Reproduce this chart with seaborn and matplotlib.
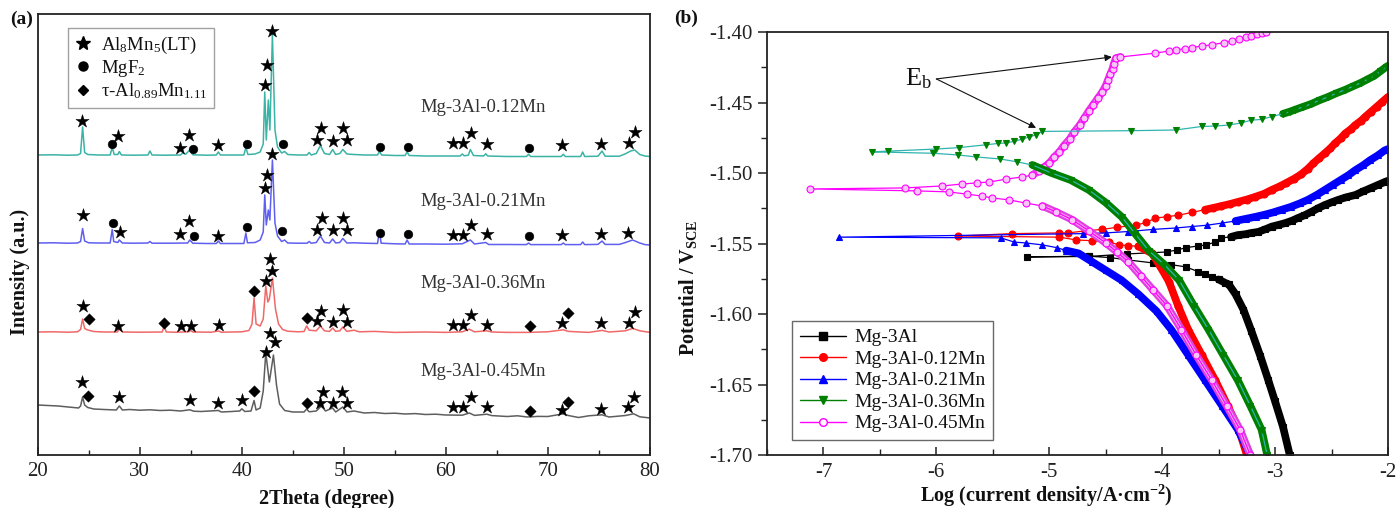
import matplotlib
matplotlib.use("Agg")
import matplotlib.pyplot as plt
from matplotlib.lines import Line2D
from matplotlib.ticker import MultipleLocator, FormatStrFormatter
import numpy as np
import pandas as pd
import seaborn as sns

# ---------------------------------------------------------------- XRD data
# (2theta in degrees, intensity in a.u.); each pattern is stacked with its offset
XRD_012 = [(20.0,3000),(21.5,3002),(23.0,2998),(23.9,3000),(24.2,3015),(24.4,3280),(24.6,3025),(24.9,3005),(26.0,3000),
           (27.1,3000),(27.3,3075),(27.5,3005),(27.85,3005),(28.0,3035),(28.2,3000),(29.5,2998),
           (30.8,3000),(31.0,3040),(31.2,3000),(32.5,2998),
           (34.0,3000),(34.2,3020),(34.5,3008),(34.9,3050),(35.2,3002),(36.5,2998),
           (37.5,3000),(37.7,3030),(37.9,3000),(39.0,3000),
           (40.2,3000),(40.4,3075),(40.6,3005),(41.3,3010),
           (41.8,3030),(42.1,3110),(42.25,3630),(42.4,3150),(42.6,3550),(42.75,3250),(43.0,4200),(43.25,3250),
           (43.5,3080),(43.9,3020),(44.2,3035),(44.5,3005),(45.5,3000),
           (46.4,3000),(46.6,3025),(46.8,3000),
           (47.3,3015),(47.7,3095),(48.1,3015),(48.6,3005),(48.9,3055),(49.2,3005),(49.6,3015),(49.9,3055),(50.3,3010),
           (51.0,3005),(52.0,3000),(53.3,3000),(53.5,3035),(53.7,3000),(55.0,2995),
           (56.0,2995),(56.2,3030),(56.4,2995),(58.0,2990),(60.0,2990),
           (61.4,2990),(61.6,3010),(61.8,2992),(62.2,2998),(62.4,3055),(62.7,2995),(63.7,2990),(63.9,3012),(64.1,2990),
           (66.0,2985),(67.9,2985),(68.1,3008),(68.3,2985),(70.0,2985),(71.3,2985),(71.5,3008),(71.7,2985),
           (73.2,2985),(73.4,3030),(73.6,2985),(74.9,2988),(75.3,3040),(75.6,2988),(77.0,2988),(77.6,3012),
           (78.1,3040),(78.5,3050),(79.0,3005),(79.5,2990),(80.0,2985)]

XRD_021 = [(20.0,2120),(21.5,2122),(23.0,2118),(23.9,2120),(24.2,2135),(24.4,2265),(24.6,2140),(25.0,2122),(26.0,2120),
           (27.1,2120),(27.3,2255),(27.45,2135),(27.85,2125),(28.0,2150),(28.3,2120),(29.5,2118),
           (30.8,2120),(31.0,2135),(31.2,2118),(33.0,2118),
           (34.7,2120),(34.9,2150),(35.2,2118),(36.5,2115),
           (37.5,2115),(37.7,2140),(37.9,2115),(39.0,2115),
           (40.2,2115),(40.4,2220),(40.55,2122),(41.3,2125),
           (41.8,2150),(42.1,2230),(42.25,2600),(42.4,2300),(42.6,2450),(42.75,2350),(43.0,2950),(43.25,2320),
           (43.5,2190),(43.9,2135),(44.2,2150),(44.5,2120),(45.5,2118),
           (46.4,2118),(46.6,2135),(46.8,2118),
           (47.3,2125),(47.7,2190),(48.1,2125),(48.6,2120),(48.9,2160),(49.2,2120),(49.6,2125),(49.9,2165),(50.3,2120),
           (51.0,2122),(52.0,2118),(53.3,2115),(53.5,2245),(53.65,2118),(55.0,2112),
           (56.0,2110),(56.2,2150),(56.4,2110),(58.0,2110),(60.0,2108),
           (61.6,2112),(62.4,2150),(62.8,2110),(63.9,2125),(64.2,2105),(66.0,2105),
           (67.9,2104),(68.1,2120),(68.3,2104),(70.0,2104),(71.3,2104),(71.5,2120),(71.7,2104),
           (73.2,2104),(73.4,2130),(73.6,2104),(74.9,2106),(75.3,2140),(75.6,2106),(77.0,2106),(77.6,2125),
           (78.3,2150),(79.0,2120),(79.5,2104),(80.0,2100)]

XRD_036 = [(20.0,1230),(21.5,1232),(23.0,1228),(23.9,1232),(24.2,1255),(24.4,1360),(24.6,1265),(24.9,1250),(25.5,1235),(26.5,1230),
           (27.8,1230),(28.0,1262),(28.3,1230),(30.0,1228),
           (32.2,1230),(32.4,1290),(32.6,1230),(33.5,1228),
           (34.8,1232),(35.0,1245),(35.2,1230),(37.0,1228),(37.7,1240),(38.0,1228),(40.0,1232),
           (40.7,1245),(41.0,1310),(41.2,1570),(41.4,1310),(41.8,1290),(42.1,1360),(42.35,1690),(42.55,1530),
           (42.7,1560),(43.0,1770),(43.3,1460),(43.6,1310),(44.0,1255),(44.5,1238),(45.5,1232),
           (46.1,1235),(46.35,1290),(46.6,1248),(47.3,1242),(47.7,1290),(48.1,1242),(48.6,1236),(48.9,1270),
           (49.2,1236),(49.6,1242),(49.9,1280),(50.3,1236),(51.0,1248),(51.5,1232),(53.0,1236),(55.0,1226),
           (58.0,1230),(60.0,1226),(61.6,1232),(62.3,1258),(62.8,1232),(64.0,1242),(64.5,1230),(66.0,1226),
           (68.0,1226),(70.0,1232),(71.5,1252),(72.0,1236),(74.0,1226),(75.3,1246),(76.0,1230),(77.6,1242),
           (78.3,1266),(79.0,1242),(80.0,1226)]

XRD_045 = [(20.0,500),(21.0,495),(22.0,490),(23.0,480),(24.0,470),(24.2,490),(24.4,580),(24.6,500),(24.9,475),(25.5,460),(26.5,455),
           (27.7,450),(28.0,490),(28.3,450),(29.0,455),(30.0,448),(31.0,452),(32.0,445),(33.0,448),(34.0,440),
           (34.9,452),(35.3,438),(36.0,435),(37.7,445),(38.0,430),(39.0,435),
           (39.8,440),(40.0,462),(40.3,435),(40.9,440),(41.2,545),(41.4,450),(41.8,470),(42.1,640),(42.35,1020),
           (42.7,730),(43.1,1000),(43.4,700),(43.7,510),(44.2,445),(45.0,430),
           (46.1,430),(46.35,460),(46.6,432),(47.3,440),(47.8,490),(48.2,440),(48.9,470),(49.2,430),(49.9,480),
           (50.3,430),(51.0,440),(52.0,420),(53.0,425),(54.0,415),(55.0,418),(56.0,410),(57.0,414),(58.0,405),
           (59.0,408),(60.0,400),(61.6,398),(62.3,420),(62.8,396),(64.0,408),(64.5,394),(66.0,385),(67.0,392),
           (68.0,380),(69.0,386),(70.0,385),(71.5,412),(72.0,395),(73.0,375),(74.0,392),(75.3,402),(76.0,380),
           (77.6,395),(78.4,412),(79.0,382),(80.0,370)]

# phase identification symbols (2theta, intensity)
AL8MN5_012 = [(24.33,3340),(27.9,3190),(33.9,3070),(34.8,3200),(37.7,3100),(42.25,3700),(42.5,3900),(43.0,4240),
              (47.4,3150),(47.8,3270),(48.9,3140),(49.9,3270),(50.3,3150),(60.7,3120),(61.7,3120),(62.5,3220),
              (64.0,3110),(71.4,3100),(75.2,3110),(77.9,3120),(78.5,3230)]
MGF2_012 = [(27.3,3110),(35.2,3060),(40.5,3110),(44.0,3110),(53.5,3080),(56.3,3080),(68.1,3070)]

AL8MN5_021 = [(24.4,2400),(28.1,2230),(33.9,2210),(34.8,2340),(37.7,2190),(42.25,2670),(42.5,2800),(43.0,3010),
              (47.4,2250),(47.9,2370),(48.9,2250),(49.9,2370),(50.3,2250),(60.7,2200),(61.7,2200),(62.5,2300),
              (64.0,2210),(71.4,2200),(75.2,2210),(77.8,2220)]
MGF2_021 = [(27.4,2320),(35.3,2190),(40.5,2280),(43.9,2240),(53.5,2220),(56.3,2210),(68.1,2190)]

AL8MN5_036 = [(24.4,1490),(27.9,1290),(34.0,1290),(35.0,1290),(37.8,1300),(42.35,1740),(42.95,1840),(42.8,1960),
              (47.4,1340),(47.8,1440),(48.9,1330),(49.9,1450),(50.3,1330),(60.7,1300),(61.7,1300),(62.5,1400),
              (64.0,1300),(71.4,1320),(75.2,1320),(77.9,1320),(78.5,1430)]
TAU_036 = [(25.0,1360),(32.4,1320),(41.2,1640),(46.35,1370),(68.2,1290),(72.0,1420)]

AL8MN5_045 = [(24.3,730),(28.0,580),(34.9,550),(37.7,520),(40.0,550),(42.35,1030),(42.8,1220),(43.3,1130),
              (47.7,520),(48.0,630),(48.9,520),(49.8,630),(50.3,520),(60.7,480),(61.7,480),(62.5,580),
              (64.0,480),(71.4,450),(75.2,460),(77.8,480),(78.4,580)]
TAU_045 = [(24.9,590),(41.2,640),(46.35,520),(68.2,440),(72.0,530)]

XRD_LABELS = ["Mg-3Al-0.12Mn", "Mg-3Al-0.21Mn", "Mg-3Al-0.36Mn", "Mg-3Al-0.45Mn"]
XRD_LABEL_POS = [(57.5, 3470), (57.5, 2530), (57.5, 1720), (57.5, 830)]

# ------------------------------------------------------- polarization data
# (log current density / A cm^-2, potential / V_SCE), cathodic end -> anodic end
MG3AL_CATH = [(-2.87,-1.700),(-2.93,-1.680),(-3.00,-1.662),(-3.06,-1.647),(-3.13,-1.630),(-3.21,-1.612),
              (-3.28,-1.597),(-3.35,-1.586),(-3.41,-1.579),(-3.44,-1.578)]
MG3AL_CORR = [(-3.50,-1.5755),(-3.56,-1.5737),(-3.62,-1.5715),(-3.68,-1.5700),(-3.79,-1.5666),(-3.92,-1.5650),
              (-4.08,-1.5638),(-4.30,-1.5617),(-4.46,-1.5600),(-4.65,-1.5590),(-5.20,-1.5595),
              (-4.65,-1.5592),(-4.31,-1.5574),(-3.96,-1.5560),(-3.87,-1.5546),(-3.79,-1.5530),(-3.68,-1.5517),
              (-3.61,-1.5510),(-3.53,-1.5490),(-3.48,-1.5460),(-3.39,-1.5453)]
MG3AL_ANOD = [(-3.33,-1.5440),(-3.27,-1.5435),(-3.21,-1.5425),(-3.15,-1.5418),(-3.09,-1.5400),(-3.03,-1.5380),
              (-2.97,-1.5368),(-2.91,-1.5355),(-2.85,-1.5338),(-2.80,-1.5320),(-2.74,-1.5300),(-2.68,-1.5276),
              (-2.62,-1.5250),(-2.56,-1.5227),(-2.50,-1.5208),(-2.44,-1.5190),(-2.37,-1.5172),(-2.29,-1.5156),
              (-2.22,-1.5130),(-2.15,-1.5106),(-2.09,-1.5085),(-2.03,-1.5064),(-2.00,-1.5055)]

MN012_CATH = [(-3.25,-1.700),(-3.32,-1.682),(-3.42,-1.665),(-3.53,-1.647),(-3.65,-1.629),(-3.77,-1.611),
              (-3.86,-1.594),(-3.94,-1.577),(-4.02,-1.566),(-4.09,-1.557)]
MN012_CORR = [(-4.21,-1.552),(-4.30,-1.5515),(-4.38,-1.551),(-4.47,-1.549),(-4.62,-1.548),(-4.76,-1.5475),
              (-4.91,-1.5455),(-5.81,-1.5447),(-5.33,-1.5430),(-4.91,-1.5425),(-4.83,-1.5425),(-4.68,-1.541),
              (-4.53,-1.540),(-4.40,-1.5385),(-4.23,-1.537),(-4.14,-1.535),(-4.06,-1.532),(-3.96,-1.531),
              (-3.86,-1.530),(-3.74,-1.528),(-3.62,-1.526)]
MN012_ANOD = [(-3.55,-1.5248),(-3.48,-1.5235),(-3.40,-1.5220),(-3.33,-1.5205),(-3.25,-1.5188),(-3.18,-1.517),
              (-3.10,-1.5148),(-3.03,-1.512),(-2.96,-1.5095),(-2.90,-1.507),(-2.83,-1.504),(-2.77,-1.501),
              (-2.71,-1.497),(-2.66,-1.493),(-2.61,-1.4895),(-2.56,-1.486),(-2.51,-1.4825),(-2.47,-1.479),
              (-2.42,-1.4755),(-2.38,-1.472),(-2.33,-1.469),(-2.29,-1.466),(-2.24,-1.463),(-2.20,-1.460),
              (-2.15,-1.4565),(-2.10,-1.453),(-2.05,-1.4495),(-2.00,-1.446)]

MN021_CATH = [(-3.22,-1.700),(-3.33,-1.682),(-3.47,-1.665),(-3.62,-1.647),(-3.77,-1.629),(-3.92,-1.611),
              (-4.05,-1.598),(-4.21,-1.586),(-4.36,-1.576),(-4.50,-1.569),(-4.62,-1.563),(-4.74,-1.557)]
MN021_CORR = [(-4.85,-1.555),(-4.93,-1.553),(-5.06,-1.551),(-5.21,-1.5496),(-5.31,-1.549),(-5.43,-1.546),
              (-6.86,-1.5455),(-4.70,-1.5430),(-4.50,-1.5425),(-4.30,-1.5415),(-4.08,-1.5400),(-3.88,-1.5390),
              (-3.74,-1.5380),(-3.60,-1.5370),(-3.47,-1.5355),(-3.35,-1.5340)]
MN021_ANOD = [(-3.26,-1.5325),(-3.17,-1.531),(-3.09,-1.5295),(-3.02,-1.528),(-2.94,-1.526),(-2.86,-1.524),
              (-2.78,-1.5215),(-2.71,-1.519),(-2.63,-1.5155),(-2.56,-1.512),(-2.49,-1.5085),(-2.42,-1.505),
              (-2.35,-1.5015),(-2.29,-1.498),(-2.22,-1.4945),(-2.16,-1.491),(-2.09,-1.4875),(-2.03,-1.484),
              (-2.00,-1.483)]

MN036_CATH = [(-3.07,-1.700),(-3.12,-1.682),(-3.22,-1.665),(-3.33,-1.647),(-3.46,-1.629),(-3.59,-1.611),
              (-3.72,-1.594),(-3.85,-1.576),(-3.98,-1.565),(-4.12,-1.555),(-4.24,-1.543),(-4.36,-1.531),
              (-4.50,-1.521),(-4.65,-1.512),(-4.81,-1.505),(-4.98,-1.500)]
MN036_CORR = [(-5.15,-1.4943),(-5.29,-1.492),(-5.44,-1.490),(-5.65,-1.4886),(-5.81,-1.4872),(-6.03,-1.486),
              (-6.57,-1.485),(-6.43,-1.4845),(-6.00,-1.483),(-5.80,-1.482),(-5.56,-1.480),(-5.45,-1.479),
              (-5.38,-1.4787),(-5.31,-1.4775),(-5.24,-1.476),(-5.18,-1.4745),(-5.12,-1.473),(-5.06,-1.4705),
              (-4.28,-1.4700),(-3.88,-1.4695),(-3.65,-1.4670),(-3.53,-1.4667),(-3.41,-1.4660),(-3.30,-1.4645),
              (-3.21,-1.4625),(-3.12,-1.4620),(-3.03,-1.4600),(-2.93,-1.4580)]
MN036_ANOD = [(-2.87,-1.4565),(-2.82,-1.4550),(-2.75,-1.4530),(-2.68,-1.4510),(-2.61,-1.4485),(-2.53,-1.4460),
              (-2.46,-1.4435),(-2.38,-1.4410),(-2.31,-1.4385),(-2.24,-1.4360),(-2.18,-1.4335),(-2.12,-1.4310),
              (-2.07,-1.4280),(-2.02,-1.4250),(-2.00,-1.4240)]

MN045_CATH = [(-3.22,-1.700),(-3.31,-1.682),(-3.43,-1.665),(-3.56,-1.647),(-3.70,-1.629),(-3.83,-1.611),
              (-3.96,-1.594),(-4.08,-1.583),(-4.19,-1.573),(-4.30,-1.563),(-4.40,-1.556),(-4.50,-1.5496),
              (-4.65,-1.541),(-4.80,-1.533),(-4.94,-1.5276)]
MN045_CORR = [(-5.06,-1.5234),(-5.21,-1.5213),(-5.36,-1.519),(-5.51,-1.5177),(-5.60,-1.5163),(-5.73,-1.515),
              (-5.89,-1.5134),(-6.17,-1.5127),(-7.12,-1.5113),(-6.28,-1.5106),(-5.95,-1.5092),(-5.77,-1.5078),
              (-5.64,-1.5070),(-5.53,-1.5064),(-5.38,-1.5043),(-5.24,-1.5028),(-5.15,-1.5015)]
MN045_RISE = [(-5.09,-1.4985),(-5.05,-1.4960),(-5.00,-1.4930),(-4.96,-1.4890),(-4.91,-1.4850),(-4.87,-1.4805),
              (-4.82,-1.4760),(-4.78,-1.4710),(-4.73,-1.4660),(-4.69,-1.4610),(-4.65,-1.4560),(-4.61,-1.4515),
              (-4.57,-1.4470),(-4.53,-1.4425),(-4.50,-1.4380),(-4.48,-1.4340),(-4.46,-1.4300),(-4.44,-1.4260),
              (-4.43,-1.4230),(-4.41,-1.4185)]
MN045_PASS = [(-4.37,-1.4177),(-4.06,-1.4150),(-3.94,-1.4135),(-3.88,-1.4128),(-3.80,-1.4118),(-3.74,-1.4110),
              (-3.65,-1.4100),(-3.56,-1.4090),(-3.45,-1.4075),(-3.38,-1.4063),(-3.32,-1.4052),(-3.26,-1.4038),
              (-3.21,-1.4027),(-3.16,-1.4016),(-3.12,-1.4008),(-3.08,-1.4000)]

# breakdown potentials pointed at by the E_b arrows
EB_TAIL = (-6.0, -1.4333)
EB_POINTS = [(-4.446, -1.4177), (-5.117, -1.468)]

# ------------------------------------------------------------------ style
sns.set_theme(style="ticks")
plt.rcParams.update({
    "font.family": "serif",
    "font.serif": ["Liberation Serif", "DejaVu Serif"],
    "mathtext.fontset": "custom",
    "mathtext.rm": "Liberation Serif",
    "mathtext.it": "Liberation Serif:italic",
    "mathtext.bf": "Liberation Serif:bold",
    "axes.unicode_minus": False,
    "axes.edgecolor": "#222222",
    "text.color": "#111111",
    "xtick.color": "#222222",
    "ytick.color": "#222222",
})

W, H = 1399, 508
fig = plt.figure(figsize=(W / 100, H / 100), dpi=100)
axa = fig.add_axes([37.7 / W, 53 / H, (650 - 37.7) / W, (455 - 14) / H])
axb = fig.add_axes([767 / W, 53 / H, (1388 - 767) / W, (455 - 32) / H])


def frame(pairs, cols):
    return pd.DataFrame(pairs, columns=cols)


# ------------------------------------------------------------- panel (a)
XRD_COLORS = ["#3bb3a5", "#5f5ff0", "#f06868", "#5e5e5e"]
for pattern, col in zip([XRD_012, XRD_021, XRD_036, XRD_045], XRD_COLORS):
    sns.lineplot(data=frame(pattern, ["tt", "I"]), x="tt", y="I", sort=False, estimator=None,
                 ax=axa, color=col, linewidth=1.1)

for pts in [AL8MN5_012, AL8MN5_021, AL8MN5_036, AL8MN5_045]:
    sns.scatterplot(data=frame(pts, ["tt", "I"]), x="tt", y="I", ax=axa, marker="*", s=100,
                    color="black", edgecolor="black", linewidth=0.3, zorder=5)
for pts in [MGF2_012, MGF2_021]:
    sns.scatterplot(data=frame(pts, ["tt", "I"]), x="tt", y="I", ax=axa, marker="o", s=40,
                    color="black", edgecolor="black", linewidth=0.3, zorder=5)
for pts in [TAU_036, TAU_045]:
    sns.scatterplot(data=frame(pts, ["tt", "I"]), x="tt", y="I", ax=axa, marker="D", s=34,
                    color="black", edgecolor="black", linewidth=0.3, zorder=5)

for lab, (x, y) in zip(XRD_LABELS, XRD_LABEL_POS):
    axa.text(x, y, lab, fontsize=13.5, ha="left", va="center", color="#333333")

axa.set_xlim(20, 80)
axa.set_ylim(0, 4410)
axa.set_xlabel("")
axa.set_ylabel("")
axa.xaxis.set_major_locator(MultipleLocator(10))
axa.xaxis.set_minor_locator(MultipleLocator(5))
axa.tick_params(axis="x", which="major", direction="in", length=6, width=1.1, labelsize=15, pad=5)
axa.tick_params(axis="x", which="minor", direction="in", length=3.5, width=1.0)
axa.tick_params(axis="y", which="both", left=False, labelleft=False)
for sp in axa.spines.values():
    sp.set_visible(True)
    sp.set_linewidth(1.3)

leg_a = axa.legend(
    handles=[Line2D([], [], ls="none", marker="*", ms=10, color="black"),
             Line2D([], [], ls="none", marker="o", ms=6.5, color="black"),
             Line2D([], [], ls="none", marker="D", ms=5.5, color="black")],
    labels=["Al$_8$Mn$_5$(LT)", "MgF$_2$", "τ-Al$_{0.89}$Mn$_{1.11}$"],
    loc="upper left", bbox_to_anchor=(0.049, 0.968), borderaxespad=0, fontsize=13.5,
    frameon=True, fancybox=False, edgecolor="#8a8a8a", handlelength=0.9, handletextpad=0.5,
    labelspacing=0.12, borderpad=0.35)
leg_a.get_frame().set_linewidth(1.0)

# ------------------------------------------------------------- panel (b)
SERIES = [
    ("Mg-3Al", [MG3AL_CATH, MG3AL_CORR, MG3AL_ANOD], [0, 2],
     dict(line="#000000", mark="#000000", face="#000000", marker="s", ms=4.2, thick="#000000", inner=None)),
    ("Mg-3Al-0.12Mn", [MN012_CATH, MN012_CORR, MN012_ANOD], [0, 2],
     dict(line="#ff0000", mark="#ff0000", face="#ff0000", marker="o", ms=5.0, thick="#ff0000", inner=None)),
    ("Mg-3Al-0.21Mn", [MN021_CATH, MN021_CORR, MN021_ANOD], [0, 2],
     dict(line="#0000ff", mark="#0000ff", face="#0000ff", marker="^", ms=4.8, thick="#0000ff", inner=None)),
    ("Mg-3Al-0.45Mn", [MN045_CATH, MN045_CORR, MN045_RISE, MN045_PASS], [0, 2],
     dict(line="#ff00ff", mark="#ff00ff", face="#f7c6f7", marker="o", ms=5.0, thick="#e040e0", inner="#f4b0f4")),
    ("Mg-3Al-0.36Mn", [MN036_CATH, MN036_CORR, MN036_ANOD], [0, 2],
     dict(line="#30b4b0", mark="#008000", face="#008000", marker="v", ms=5.0, thick="#008000", inner=None)),
]

for name, segs, dense, st in SERIES:
    # stretches where the recorded points merge into a solid band
    for k in dense:
        seg = list(segs[k])
        if k > 0:
            seg = [segs[k - 1][-1]] + seg
        if k < len(segs) - 1:
            seg = seg + [segs[k + 1][0]]
        d = frame(seg, ["logi", "E"])
        sns.lineplot(data=d, x="logi", y="E", sort=False, estimator=None, ax=axb,
                     color=st["thick"], linewidth=5.5, solid_capstyle="round", solid_joinstyle="round")
        if st["inner"]:
            sns.lineplot(data=d, x="logi", y="E", sort=False, estimator=None, ax=axb,
                         color=st["inner"], linewidth=2.2, solid_capstyle="round")
    allpts = frame([p for s in segs for p in s], ["logi", "E"])
    sns.lineplot(data=allpts, x="logi", y="E", sort=False, estimator=None, ax=axb,
                 color=st["line"], linewidth=0.9, marker=st["marker"], markersize=st["ms"],
                 markerfacecolor=st["face"], markeredgecolor=st["mark"], markeredgewidth=0.8)

for tip in EB_POINTS:
    axb.annotate("", xy=tip, xytext=EB_TAIL,
                 arrowprops=dict(arrowstyle="-|>", color="#111111", lw=0.8, mutation_scale=10,
                                 shrinkA=0, shrinkB=0))
axb.text(-6.28, -1.4376, "E$_\\mathregular{b}$", fontsize=19, ha="left", va="baseline")

axb.set_xlim(-7.5, -2.0)
axb.set_ylim(-1.70, -1.40)
axb.set_xlabel("")
axb.set_ylabel("")
axb.xaxis.set_major_locator(MultipleLocator(1))
axb.xaxis.set_minor_locator(MultipleLocator(0.5))
axb.yaxis.set_major_locator(MultipleLocator(0.05))
axb.yaxis.set_minor_locator(MultipleLocator(0.025))
axb.yaxis.set_major_formatter(FormatStrFormatter("%.2f"))
axb.xaxis.set_major_formatter(FormatStrFormatter("%d"))
axb.tick_params(axis="x", which="major", direction="in", length=6, width=1.1, labelsize=15, pad=6)
axb.tick_params(axis="x", which="minor", direction="in", length=4, width=1.0)
axb.tick_params(axis="y", which="major", direction="out", length=6.5, width=1.1, labelsize=15, pad=4)
axb.tick_params(axis="y", which="minor", direction="out", length=4, width=1.0)
for sp in axb.spines.values():
    sp.set_visible(True)
    sp.set_linewidth(1.3)

LEGEND_B = [("Mg-3Al", "#000000", "s", "#000000", "#000000"),
            ("Mg-3Al-0.12Mn", "#ff0000", "o", "#ff0000", "#ff0000"),
            ("Mg-3Al-0.21Mn", "#0000ff", "^", "#0000ff", "#0000ff"),
            ("Mg-3Al-0.36Mn", "#008000", "v", "#008000", "#008000"),
            ("Mg-3Al-0.45Mn", "#ff00ff", "o", "#ffffff", "#ff00ff")]
handles_b = [Line2D([], [], color=c, lw=1.0, marker=m, ms=5.5, markerfacecolor=fc, markeredgecolor=ec)
             for _, c, m, fc, ec in LEGEND_B]
leg_b = axb.legend(handles=handles_b, labels=[n for n, *_ in LEGEND_B], loc="lower left",
                   bbox_to_anchor=(0.040, 0.035), borderaxespad=0, fontsize=14, frameon=True,
                   fancybox=False, edgecolor="#444444", handlelength=2.4, handletextpad=0.4,
                   labelspacing=0.2, borderpad=0.4)
leg_b.get_frame().set_linewidth(1.0)

# ------------------------------------------------------- labels & panel tags
fig.text(22 / W, 1 - 19 / H, "(a)", fontsize=14, fontweight="bold", ha="center", va="center")
fig.text(686 / W, 1 - 18 / H, "(b)", fontsize=14, fontweight="bold", ha="center", va="center")
fig.text(327 / W, 1 - 499 / H, "2Theta (degree)", fontsize=14.5, fontweight="bold", ha="center", va="center")
fig.text(1046 / W, 1 - 496 / H, "Log (current density/A·cm$^{\\mathregular{-2}}$)", fontsize=14.5,
         fontweight="bold", ha="center", va="center")
fig.text(20 / W, 1 - 272 / H, "Intensity (a.u.)", fontsize=14.5, fontweight="bold", rotation=90,
         ha="center", va="center")
fig.text(688 / W, 1 - 288 / H, "Potential / V$_{\\mathregular{SCE}}$", fontsize=14.5, fontweight="bold",
         rotation=90, ha="center", va="center")

fig.savefig("out.png", dpi=100)
